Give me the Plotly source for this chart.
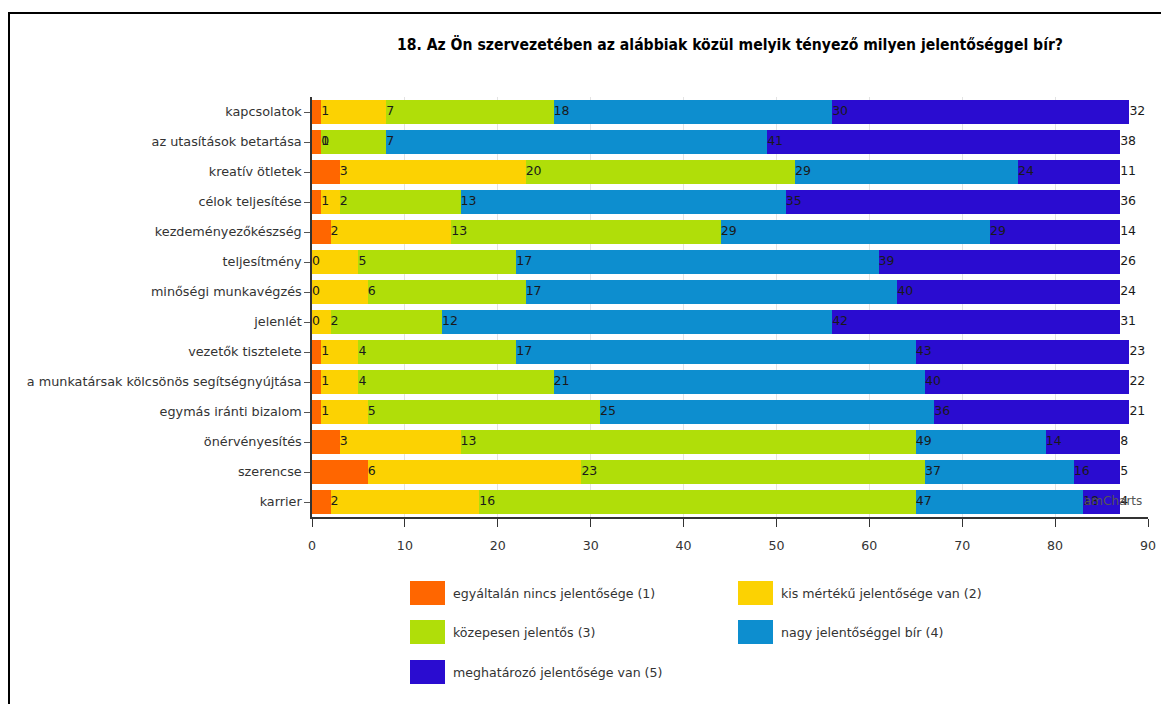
import numpy as np
import plotly.graph_objects as go

categories = ["kapcsolatok", "az utasítások betartása", "kreatív ötletek", "célok teljesítése",
              "kezdeményezőkészség", "teljesítmény", "minőségi munkavégzés", "jelenlét",
              "vezetők tisztelete", "a munkatársak kölcsönös segítségnyújtása",
              "egymás iránti bizalom", "önérvényesítés", "szerencse", "karrier"]

series_names = ["egyáltalán nincs jelentősége (1)", "kis mértékű jelentősége van (2)",
                "közepesen jelentős (3)", "nagy jelentőséggel bír (4)",
                "meghatározó jelentősége van (5)"]

v1 = [1, 1, 3, 1, 2, 0, 0, 0, 1, 1, 1, 3, 6, 2]
v2 = [7, 0, 20, 2, 13, 5, 6, 2, 4, 4, 5, 13, 23, 16]
v3 = [18, 7, 29, 13, 29, 17, 17, 12, 17, 21, 25, 49, 37, 47]
v4 = [30, 41, 24, 35, 29, 39, 40, 42, 43, 40, 36, 14, 16, 18]
v5 = [32, 38, 11, 36, 14, 26, 24, 31, 23, 22, 21, 8, 5, 4]

colors = ["#FF6600", "#FCD202", "#B0DE09", "#0D8ECF", "#2A0CD0"]

x_ticks = [0, 10, 20, 30, 40, 50, 60, 70, 80, 90]
title_text = "18. Az Ön szervezetében az alábbiak közül melyik tényező milyen jelentőséggel bír?"

FONT = "DejaVu Sans, Verdana, sans-serif"

# layout geometry (pixels)
W, H = 1161, 704
ML, MR, MT, MB = 312, 13, 97, 187
PW, PH = W - ML - MR, H - MT - MB


def px2paper_x(px):
    return (px - ML) / PW


def px2paper_y(py):
    return (H - MB - py) / PH


series = [v1, v2, v3, v4, v5]
ends = np.cumsum(np.array(series), axis=0)

fig = go.Figure()
for name, vals, col in zip(series_names, series, colors):
    fig.add_trace(go.Bar(
        x=vals, y=categories, orientation="h", name=name,
        marker=dict(color=col, line=dict(width=0)),
        showlegend=False, hoverinfo="x+y+name",
    ))

for vals, end in zip(series, ends):
    fig.add_trace(go.Scatter(
        x=end, y=categories, mode="text", text=[str(v) for v in vals],
        textposition="middle right",
        textfont=dict(family=FONT, size=12.5, color="#1a1a1a"),
        showlegend=False, hoverinfo="skip", cliponaxis=False,
    ))

shapes = []
annotations = []

# outer frame of the screenshot
shapes.append(dict(type="rect", xref="paper", yref="paper",
                   x0=px2paper_x(9), x1=px2paper_x(1175),
                   y0=px2paper_y(730), y1=px2paper_y(13),
                   line=dict(color="#000000", width=2), fillcolor="rgba(0,0,0,0)",
                   layer="above"))

# manual legend (large swatches, two columns)
col_x = [410, 738]
row_y = [593, 632, 672]
for i, (name, col) in enumerate(zip(series_names, colors)):
    cx = col_x[i % 2]
    cy = row_y[i // 2]
    shapes.append(dict(type="rect", xref="paper", yref="paper",
                       x0=px2paper_x(cx), x1=px2paper_x(cx + 35),
                       y0=px2paper_y(cy + 12), y1=px2paper_y(cy - 12),
                       line=dict(width=0), fillcolor=col))
    annotations.append(dict(xref="paper", yref="paper",
                            x=px2paper_x(cx + 41), y=px2paper_y(cy),
                            xanchor="left", yanchor="middle", showarrow=False,
                            text=name, font=dict(family=FONT, size=12.6, color="#333333")))

# watermark
annotations.append(dict(xref="paper", yref="paper", x=px2paper_x(1144), y=px2paper_y(501),
                        xanchor="right", yanchor="middle", showarrow=False,
                        text="amCharts", font=dict(family=FONT, size=12, color="#555555")))

fig.update_layout(
    width=W, height=H,
    margin=dict(l=ML, r=MR, t=MT, b=MB, autoexpand=False),
    paper_bgcolor="white", plot_bgcolor="white",
    barmode="stack", bargap=0.18,
    font=dict(family=FONT, size=12, color="#333333"),
    title=dict(text=f"<b>{title_text}</b>", x=0.5, xref="paper", xanchor="center",
               y=1 - 45 / H, yref="container", yanchor="middle",
               font=dict(family="DejaVu Sans Condensed, DejaVu Sans, sans-serif",
                         size=15.6, color="#000000")),
    xaxis=dict(range=[0, 90], tickvals=x_ticks, ticks="outside", ticklen=8,
               tickcolor="#333333", showline=True, linecolor="#333333", linewidth=1.5,
               showgrid=True, gridcolor="#e3e3e3", gridwidth=1, zeroline=False,
               ticklabelstandoff=8, automargin=False,
               tickfont=dict(family=FONT, size=12.6, color="#333333")),
    yaxis=dict(range=[len(categories) - 0.5, -0.5], type="category",
               categoryorder="array", categoryarray=categories,
               ticks="outside", ticklen=6, tickcolor="#555555",
               showline=True, linecolor="#333333", linewidth=1.5,
               showgrid=False, zeroline=False, automargin=False,
               tickfont=dict(family=FONT, size=12.8, color="#333333")),
    yaxis2=dict(overlaying="y", range=[len(categories) - 0.5, -0.5],
                tick0=0.5, dtick=1, showgrid=True, gridcolor="#ececec",
                showticklabels=False, ticks="", showline=False, zeroline=False,
                automargin=False),
    shapes=shapes, annotations=annotations,
)

fig.write_html("out.html")
